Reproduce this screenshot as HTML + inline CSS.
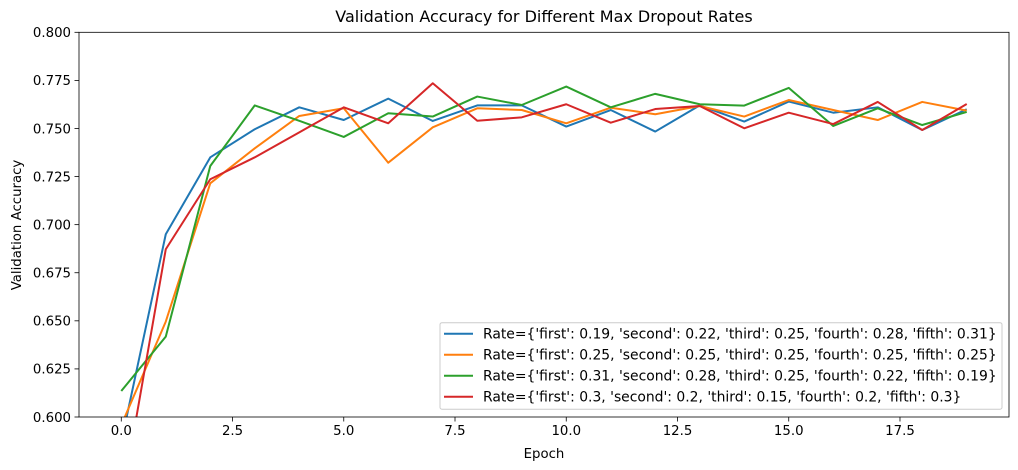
<!DOCTYPE html>
<html><head><meta charset="utf-8"><style>
html,body{margin:0;padding:0;background:#fff;overflow:hidden;width:1018px;height:470px}
svg{display:block;font-family:"DejaVu Sans","Liberation Sans",sans-serif}
</style></head><body>
<svg id="chart" width="1018" height="470" viewBox="0 0 1018 470">
<g id="plot"></g>
</svg>
<script>
const epochs=[0,1,2,3,4,5,6,7,8,9,10,11,12,13,14,15,16,17,18,19];
const seriesBlue=[0.587,0.695,0.735,0.7496,0.761,0.7544,0.7655,0.7539,0.762,0.762,0.751,0.7596,0.7484,0.762,0.7536,0.764,0.7582,0.761,0.7492,0.760];
const seriesOrange=[0.5957,0.6496,0.7215,0.7397,0.7565,0.7605,0.7322,0.7506,0.7605,0.7596,0.7527,0.7608,0.7574,0.7617,0.7562,0.7648,0.7596,0.7544,0.7638,0.7593];
const seriesGreen=[0.6135,0.6418,0.7305,0.762,0.754,0.7456,0.7579,0.7562,0.7666,0.7622,0.7718,0.761,0.768,0.7626,0.7619,0.7711,0.7513,0.7605,0.7518,0.7586];
const seriesRed=[0.555,0.6872,0.7236,0.735,0.748,0.761,0.7527,0.7735,0.754,0.7558,0.7626,0.753,0.7601,0.7617,0.7501,0.7582,0.7523,0.7638,0.7492,0.7627];
const seriesLabels=["Rate={'first': 0.19, 'second': 0.22, 'third': 0.25, 'fourth': 0.28, 'fifth': 0.31}","Rate={'first': 0.25, 'second': 0.25, 'third': 0.25, 'fourth': 0.25, 'fifth': 0.25}","Rate={'first': 0.31, 'second': 0.28, 'third': 0.25, 'fourth': 0.22, 'fifth': 0.19}","Rate={'first': 0.3, 'second': 0.2, 'third': 0.15, 'fourth': 0.2, 'fifth': 0.3}"];
const xTicks=[0,2.5,5,7.5,10,12.5,15,17.5];
const yTicks=[0.6,0.625,0.65,0.675,0.7,0.725,0.75,0.775,0.8];

const L=79,R=1009,T=32.3,B=417;
const xMin=-0.95,xMax=19.95,yMin=0.6,yMax=0.8;
const sx=v=>L+(v-xMin)/(xMax-xMin)*(R-L);
const sy=v=>B-(v-yMin)/(yMax-yMin)*(B-T);
const NS="http://www.w3.org/2000/svg";
const svg=document.getElementById('chart');
function mk(tag,attrs,parent){const e=document.createElementNS(NS,tag);for(const k in attrs)e.setAttribute(k,attrs[k]);(parent||svg).appendChild(e);return e;}

const clip=mk('clipPath',{id:'clip'});mk('rect',{x:L,y:T,width:R-L,height:B-T},clip);

const title=mk('text',{x:(L+R)/2,y:22,'text-anchor':'middle','font-size':'16'});title.textContent='Validation Accuracy for Different Max Dropout Rates';



xTicks.forEach(t=>{
 const g=mk('g',{});
 
 
 mk('line',{x1:sx(t),x2:sx(t),y1:B,y2:B+4.5,stroke:'#000','stroke-width':0.8},g);
 const tx=mk('text',{x:sx(t),y:B+18,'text-anchor':'middle','font-size':'13.3'},g);tx.textContent=t.toFixed(1);
});
yTicks.forEach(t=>{
 const g=mk('g',{});
 
 
 mk('line',{x1:L-4.5,x2:L,y1:sy(t),y2:sy(t),stroke:'#000','stroke-width':0.8},g);
 const tx=mk('text',{x:L-8,y:sy(t)+4.8,'text-anchor':'end','font-size':'13.3'},g);tx.textContent=t.toFixed(3);
});
const xl=mk('text',{x:(L+R)/2,y:458,'text-anchor':'middle','font-size':'13.3'});xl.textContent='Epoch';


const yl=mk('text',{x:0,y:0,'text-anchor':'middle','font-size':'13.3',transform:'translate(21,225) rotate(-90)'});yl.textContent='Validation Accuracy';



const colors=['#1f77b4','#ff7f0e','#2ca02c','#d62728'];
const all=[seriesBlue,seriesOrange,seriesGreen,seriesRed];
const names=['line-blue','line-orange','line-green','line-red'];
all.forEach((s,i)=>{
 const p=mk('polyline',{points:s.map((v,j)=>sx(epochs[j])+','+sy(v)).join(' '),fill:'none',stroke:colors[i],'stroke-width':2,'stroke-linejoin':'round','clip-path':'url(#clip)'});
 
 
});

const frame=mk('rect',{x:L,y:T,width:R-L,height:B-T,fill:'none',stroke:'#000','stroke-width':0.8});



const lg=mk('g',{});


mk('rect',{x:440,y:322.7,width:562,height:86.5,rx:2,fill:'#fff','fill-opacity':0.8,stroke:'#ccc','stroke-width':1},lg);
seriesLabels.forEach((lab,i)=>{
 const y=333.7+i*21;
 const e=mk('g',{},lg);
 
 
 mk('line',{x1:444,x2:473,y1:y,y2:y,stroke:colors[i],'stroke-width':2},e);
 const t=mk('text',{x:483,y:y+5,'font-size':'13.9'},e);t.textContent=lab;
});
</script>
</body></html>
